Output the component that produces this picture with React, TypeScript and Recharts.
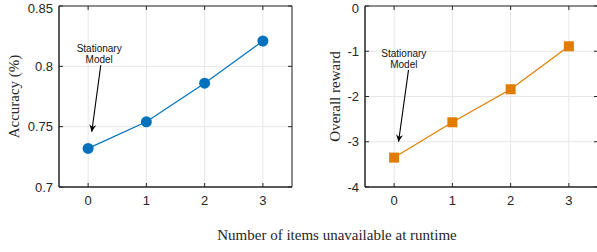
import React from "react"
import { LineChart, Line, XAxis, YAxis, CartesianGrid, ReferenceLine, ReferenceDot, ReferenceArea } from "recharts"

// number of items unavailable at runtime
const items = [0, 1, 2, 3]
const accuracy = [0.732, 0.754, 0.786, 0.821]
const reward = [-3.35, -2.57, -1.84, -0.89]

const xTicks = [0, 1, 2, 3]
const accTicks = [0.7, 0.75, 0.8, 0.85]
const rewardTicks = [-4, -3, -2, -1, 0]

const accData = items.map((x, i) => ({ x, value: accuracy[i] }))
const rewardData = items.map((x, i) => ({ x, value: reward[i] }))

const X_DOMAIN: [number, number] = [-0.5, 3.5]
const AXIS = "#262626"
const GRID = "#e6e6e6"
const SANS = "'Liberation Sans', Arial, sans-serif"
const SERIF = "'Liberation Serif', 'Times New Roman', serif"

const tickStyle = { fontSize: 13, fill: AXIS, fontFamily: SANS }

function SquareDot(props: any) {
  const { cx, cy, fill } = props
  if (cx == null || cy == null) return null
  return <rect x={cx - 5} y={cy - 5} width={10} height={10} fill={fill} />
}

interface PanelProps {
  data: { x: number; value: number }[]
  domain: [number, number]
  yTicks: number[]
  color: string
  square?: boolean
  yLabel: string
  yAxisWidth: number
  labelOffset: number
  width: number
  marginRight: number
  noteAt: { x: number; y: number }
  arrow: { x: number; y: number }[]
}

function Panel(p: PanelProps) {
  const [y0, y1] = p.domain
  // inner tick length: ~4px expressed in data units
  const dx = (X_DOMAIN[1] - X_DOMAIN[0]) * 0.017
  const dy = (y1 - y0) * 0.022
  const tickSegs: { x: number; y: number }[][] = []
  xTicks.forEach((t) => {
    tickSegs.push([{ x: t, y: y0 }, { x: t, y: y0 + dy }])
    tickSegs.push([{ x: t, y: y1 }, { x: t, y: y1 - dy }])
  })
  p.yTicks.forEach((t) => {
    tickSegs.push([{ x: X_DOMAIN[0], y: t }, { x: X_DOMAIN[0] + dx, y: t }])
    tickSegs.push([{ x: X_DOMAIN[1], y: t }, { x: X_DOMAIN[1] - dx, y: t }])
  })

  return (
    <LineChart
      width={p.width}
      height={252}
      data={p.data}
      margin={{ top: 6, right: p.marginRight, bottom: 45, left: 0 }}
    >
      <CartesianGrid stroke={GRID} strokeWidth={1} />
      <XAxis
        dataKey="x"
        type="number"
        domain={X_DOMAIN}
        ticks={xTicks}
        allowDataOverflow
        height={20}
        tickLine={false}
        tickSize={0}
        tickMargin={9}
        axisLine={{ stroke: AXIS }}
        tick={tickStyle}
      />
      <YAxis
        type="number"
        domain={p.domain}
        ticks={p.yTicks}
        allowDataOverflow
        width={p.yAxisWidth}
        tickLine={false}
        tickSize={0}
        tickMargin={6}
        axisLine={{ stroke: AXIS }}
        tick={tickStyle}
        label={(lp: any) => {
          const vb = lp.viewBox
          const cx = vb.x + p.labelOffset
          const cy = vb.y + vb.height / 2
          return (
            <text x={cx} y={cy} transform={`rotate(-90, ${cx}, ${cy})`} textAnchor="middle"
              dominantBaseline="middle" fontFamily={SERIF} fontSize={15} fill={AXIS}>
              {p.yLabel}
            </text>
          )
        }}
      />
      {/* box frame and inward tick marks */}
      <ReferenceArea x1={X_DOMAIN[0]} x2={X_DOMAIN[1]} y1={y0} y2={y1} fill="none" fillOpacity={0}
        stroke={AXIS} strokeWidth={1} strokeOpacity={1} ifOverflow="visible" />
      {tickSegs.map((s, i) => (
        <ReferenceLine key={i} segment={s} stroke={AXIS} strokeWidth={1} ifOverflow="visible" />
      ))}
      <Line
        dataKey="value"
        stroke={p.color}
        strokeWidth={1.2}
        isAnimationActive={false}
        dot={p.square ? <SquareDot fill={p.color} /> : { r: 5.5, fill: p.color, stroke: p.color, strokeWidth: 0 }}
        activeDot={false}
      />
      <ReferenceLine
        segment={p.arrow}
        ifOverflow="visible"
        shape={(lp: any) => (
          <line x1={lp.x1} y1={lp.y1} x2={lp.x2} y2={lp.y2} stroke="#000" strokeWidth={1.1} markerEnd="url(#arrowHead)" />
        )}
      />
      <ReferenceDot
        x={p.noteAt.x}
        y={p.noteAt.y}
        r={0}
        fill="none"
        stroke="none"
        ifOverflow="visible"
        label={(lp: any) => {
          const vb = lp.viewBox
          return (
            <text x={vb.x} y={vb.y} textAnchor="middle" fontFamily={SANS} fontSize={10} fill="#111">
              <tspan x={vb.x} dy={-2}>Stationary</tspan>
              <tspan x={vb.x} dy={11}>Model</tspan>
            </text>
          )
        }}
      />
    </LineChart>
  )
}

export default function App() {
  return (
    <div style={{ position: "absolute", left: 0, top: 0, width: 597, height: 252, overflow: "hidden", background: "#fff" }}>
      <svg width={0} height={0} style={{ position: "absolute" }}>
        <defs>
          <marker id="arrowHead" viewBox="0 0 10 10" refX={10} refY={5} markerWidth={9} markerHeight={7}
            markerUnits="userSpaceOnUse" orient="auto">
            <path d="M0,0 L10,5 L0,10 L3,5 z" fill="#000" />
          </marker>
        </defs>
      </svg>
      <div style={{ position: "absolute", left: 0, top: 0 }}>
        <Panel
          data={accData}
          domain={[0.7, 0.85]}
          yTicks={accTicks}
          color="#0072BD"
          yLabel="Accuracy (%)"
          yAxisWidth={59}
          labelOffset={16}
          width={300}
          marginRight={8}
          noteAt={{ x: 0.19, y: 0.81 }}
          arrow={[{ x: 0.217, y: 0.801 }, { x: 0.063, y: 0.7458 }]}
        />
      </div>
      <div style={{ position: "absolute", left: 297, top: 0 }}>
        <Panel
          data={rewardData}
          domain={[-4, 0]}
          yTicks={rewardTicks}
          color="#E07D00"
          square
          yLabel="Overall reward"
          yAxisWidth={68}
          labelOffset={40}
          width={302}
          marginRight={1}
          noteAt={{ x: 0.167, y: -1.17 }}
          arrow={[{ x: 0.247, y: -1.41 }, { x: 0.076, y: -3.0 }]}
        />
      </div>
      <div style={{ position: "absolute", left: 100, width: 474, top: 227, textAlign: "center",
        fontFamily: SERIF, fontSize: 15, color: AXIS, lineHeight: "17px", whiteSpace: "nowrap" }}>
        Number of items unavailable at runtime
      </div>
    </div>
  )
}
